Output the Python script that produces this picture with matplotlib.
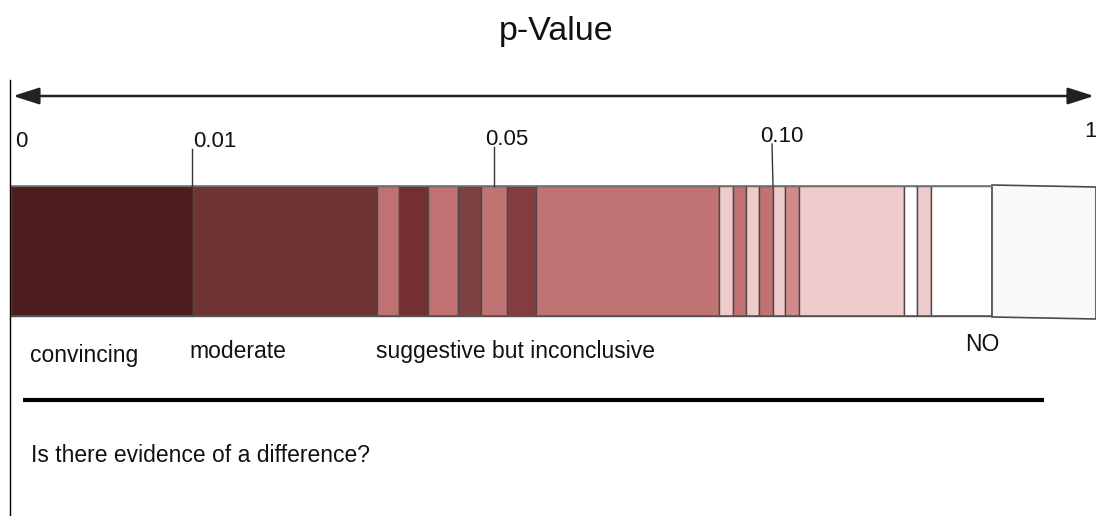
import matplotlib
matplotlib.use("Agg")
import matplotlib.pyplot as plt
from matplotlib.patches import Rectangle, Polygon
from matplotlib import rcParams

rcParams['font.family'] = ['Liberation Sans', 'DejaVu Sans']

# strip segment edges (picture units) and their fill colours
seg_edges = [11, 193, 377, 399, 428, 458, 481, 507, 536, 719, 733, 746,
             759, 773, 785, 799, 904, 917, 931, 992, 1096]
seg_colors = ['#4d1d1e', '#6e3333', '#c07272', '#752f31', '#c07272', '#7e4243',
              '#c07272', '#843c3e', '#bf7373', '#efcbcc', '#c07272', '#efcbcc',
              '#c07272', '#efcbcc', '#d38a8a', '#efcbcc', '#ffffff', '#efcbcc',
              '#ffffff', '#f9f9f9']

# p-value marks along the top
tick_labels = ['0', '0.01', '0.05', '0.10', '1']
tick_label_x = [15, 193, 485, 760, 1084]
tick_label_y = [147, 147, 145, 142, 137]
tick_line_x = [None, 192, 494, 772, None]

# evidence categories under the strip
cat_labels = ['convincing', 'moderate', 'suggestive but inconclusive', 'NO']
cat_x = [30, 189, 376, 965]
cat_y = [362, 358, 358, 351]

fig = plt.figure(figsize=(10.96, 5.16), dpi=100)
ax = fig.add_axes([0, 0, 1, 1])
ax.set_xlim(0, 1096)
ax.set_ylim(516, 0)
ax.axis('off')

strip_top, strip_bot = 186, 316
for i, c in enumerate(seg_colors):
    x0, x1 = seg_edges[i], seg_edges[i + 1]
    if i == len(seg_colors) - 1:
        # last box is drawn slightly skewed in the sketch
        ax.add_patch(Polygon([(x0, strip_top - 1), (x1, strip_top + 1),
                              (x1, strip_bot + 3), (x0, strip_bot + 1)],
                             facecolor=c, edgecolor='#4a4a4a', lw=1.2))
        continue
    ax.add_patch(Rectangle((x0, strip_top), x1 - x0, strip_bot - strip_top,
                           facecolor=c, edgecolor='#4a4a4a', lw=1.0))
ax.plot([seg_edges[0], seg_edges[-2]], [strip_top, strip_top], color='#777777', lw=1.2)
ax.plot([seg_edges[0], seg_edges[-2]], [strip_bot, strip_bot], color='#555555', lw=1.2)

# left border line
ax.plot([10, 10], [80, 516], color='black', lw=1.0)

# double arrow
ax.annotate('', xy=(1094, 96), xytext=(13, 96),
            arrowprops=dict(arrowstyle='<|-|>,head_length=1.0,head_width=0.32',
                            mutation_scale=16, color='#222222', lw=1.8,
                            shrinkA=0, shrinkB=0))

ax.text(556, 40, 'p-Value', fontsize=24.5, ha='center', va='baseline', color='#111111')

for lab, x, y, lx in zip(tick_labels, tick_label_x, tick_label_y, tick_line_x):
    ax.text(x, y, lab, fontsize=16, ha='left', va='baseline', color='#111111')
    if lx is not None:
        ax.plot([lx, lx + (1 if lab == '0.10' else 0)], [y + 2, strip_top],
                color='#333333', lw=1.0)

for lab, x, y in zip(cat_labels, cat_x, cat_y):
    ax.text(x, y, lab, fontsize=16.5, ha='left', va='baseline', color='#111111')

ax.plot([23, 1044], [400, 400], color='black', lw=3.0, solid_capstyle='butt')
ax.text(31, 462, 'Is there evidence of a difference?', fontsize=16.5,
        ha='left', va='baseline', color='#111111')

fig.savefig('out.png', dpi=100)
